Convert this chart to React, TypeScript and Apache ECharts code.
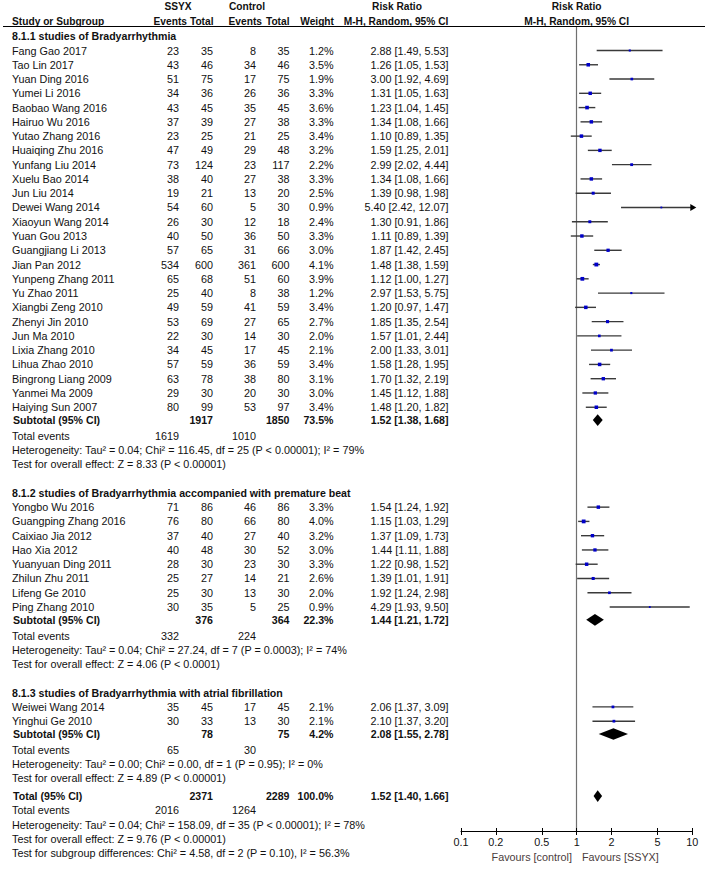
import React, { useEffect, useRef } from 'react';
import * as echarts from 'echarts';

// ---------- data ----------
const groupTitles = [
  '8.1.1 studies of Bradyarrhythmia',
  '8.1.2 studies of Bradyarrhythmia accompanied with premature beat',
  '8.1.3 studies of Bradyarrhythmia with atrial fibrillation',
];
const groupSizes = [26, 8, 2];

const studyNames = [
  'Fang Gao 2017', 'Tao Lin 2017', 'Yuan Ding 2016', 'Yumei Li 2016', 'Baobao Wang 2016',
  'Hairuo Wu 2016', 'Yutao Zhang 2016', 'Huaiqing Zhu 2016', 'Yunfang Liu 2014', 'Xuelu Bao 2014',
  'Jun Liu 2014', 'Dewei Wang 2014', 'Xiaoyun Wang 2014', 'Yuan Gou 2013', 'Guangjiang Li 2013',
  'Jian Pan 2012', 'Yunpeng Zhang 2011', 'Yu Zhao 2011', 'Xiangbi Zeng 2010', 'Zhenyi Jin 2010',
  'Jun Ma 2010', 'Lixia Zhang 2010', 'Lihua Zhao 2010', 'Bingrong Liang 2009', 'Yanmei Ma 2009',
  'Haiying Sun 2007',
  'Yongbo Wu 2016', 'Guangping Zhang 2016', 'Caixiao Jia 2012', 'Hao Xia 2012', 'Yuanyuan Ding 2011',
  'Zhilun Zhu 2011', 'Lifeng Ge 2010', 'Ping Zhang 2010',
  'Weiwei Wang 2014', 'Yinghui Ge 2010',
];
const ssyxEvents = [23, 43, 51, 34, 43, 37, 23, 47, 73, 38, 19, 54, 26, 40, 57, 534, 65, 25, 49, 53, 22, 34, 57, 63, 29, 80,
  71, 76, 37, 40, 28, 25, 25, 30, 35, 30];
const ssyxTotals = [35, 46, 75, 36, 45, 39, 25, 49, 124, 40, 21, 60, 30, 50, 65, 600, 68, 40, 59, 69, 30, 45, 59, 78, 30, 99,
  86, 80, 40, 48, 30, 27, 30, 35, 45, 33];
const ctrlEvents = [8, 34, 17, 26, 35, 27, 21, 29, 23, 27, 13, 5, 12, 36, 31, 361, 51, 8, 41, 27, 14, 17, 36, 38, 20, 53,
  46, 66, 27, 30, 23, 14, 13, 5, 17, 13];
const ctrlTotals = [35, 46, 75, 36, 45, 38, 25, 48, 117, 38, 20, 30, 18, 50, 66, 600, 60, 38, 59, 65, 30, 45, 59, 80, 30, 97,
  86, 80, 40, 52, 30, 21, 30, 25, 45, 30];
const weights = [1.2, 3.5, 1.9, 3.3, 3.6, 3.3, 3.4, 3.2, 2.2, 3.3, 2.5, 0.9, 2.4, 3.3, 3.0, 4.1, 3.9, 1.2, 3.4, 2.7, 2.0, 2.1, 3.4, 3.1, 3.0, 3.4,
  3.3, 4.0, 3.2, 3.0, 3.3, 2.6, 2.0, 0.9, 2.1, 2.1];
const riskRatios = [2.88, 1.26, 3.0, 1.31, 1.23, 1.34, 1.1, 1.59, 2.99, 1.34, 1.39, 5.4, 1.3, 1.11, 1.87, 1.48, 1.12, 2.97, 1.2, 1.85, 1.57, 2.0, 1.58, 1.7, 1.45, 1.48,
  1.54, 1.15, 1.37, 1.44, 1.22, 1.39, 1.92, 4.29, 2.06, 2.1];
const ciLow = [1.49, 1.05, 1.92, 1.05, 1.04, 1.08, 0.89, 1.25, 2.02, 1.08, 0.98, 2.42, 0.91, 0.89, 1.42, 1.38, 1.0, 1.53, 0.97, 1.35, 1.01, 1.33, 1.28, 1.32, 1.12, 1.2,
  1.24, 1.03, 1.09, 1.11, 0.98, 1.01, 1.24, 1.93, 1.37, 1.37];
const ciHigh = [5.53, 1.53, 4.69, 1.63, 1.45, 1.66, 1.35, 2.01, 4.44, 1.66, 1.98, 12.07, 1.86, 1.39, 2.45, 1.59, 1.27, 5.75, 1.47, 2.54, 2.44, 3.01, 1.95, 2.19, 1.88, 1.82,
  1.92, 1.29, 1.73, 1.88, 1.52, 1.91, 2.98, 9.5, 3.09, 3.2];

// subtotals (groups 0..2) and overall total (index 3)
const summaryLabels = ['Subtotal (95% CI)', 'Subtotal (95% CI)', 'Subtotal (95% CI)', 'Total (95% CI)'];
const summarySsyxTotals = [1917, 376, 78, 2371];
const summaryCtrlTotals = [1850, 364, 75, 2289];
const summaryWeights = ['73.5%', '22.3%', '4.2%', '100.0%'];
const summaryRR = [1.52, 1.44, 2.08, 1.52];
const summaryLow = [1.38, 1.21, 1.55, 1.4];
const summaryHigh = [1.68, 1.72, 2.78, 1.66];
const summarySsyxEvents = [1619, 332, 65, 2016];
const summaryCtrlEvents = [1010, 224, 30, 1264];
const heterogeneity = [
  'Heterogeneity: Tau² = 0.04; Chi² = 116.45, df = 25 (P < 0.00001); I² = 79%',
  'Heterogeneity: Tau² = 0.04; Chi² = 27.24, df = 7 (P = 0.0003); I² = 74%',
  'Heterogeneity: Tau² = 0.00; Chi² = 0.00, df = 1 (P = 0.95); I² = 0%',
  'Heterogeneity: Tau² = 0.04; Chi² = 158.09, df = 35 (P < 0.00001); I² = 78%',
];
const overallEffect = [
  'Test for overall effect: Z = 8.33 (P < 0.00001)',
  'Test for overall effect: Z = 4.06 (P < 0.0001)',
  'Test for overall effect: Z = 4.89 (P < 0.00001)',
  'Test for overall effect: Z = 9.76 (P < 0.00001)',
];
const subgroupTest = 'Test for subgroup differences: Chi² = 4.58, df = 2 (P = 0.10), I² = 56.3%';

const tickValues = [0.1, 0.2, 0.5, 1, 2, 5, 10];
const favoursLeft = 'Favours [control]';
const favoursRight = 'Favours [SSYX]';

// ---------- layout ----------
const FONT = '"Liberation Sans", Arial, Helvetica, sans-serif';
const TEXT = '#111';
const REG_SIZE = 10.8;
const BOLD_SIZE = 10.6;
const HEAD_SIZE = 10.2;
const LINE_H = 14.27;
const ROW0_PX = 50.5;
const GRID_TOP = 26.5;
const AXIS_PX = 831;
const Y_MIN = (GRID_TOP - ROW0_PX) / LINE_H;
const Y_MAX = (AXIS_PX - ROW0_PX) / LINE_H;

type Row = { kind: string; r: number; i?: number; text?: string };
const rows: Row[] = [];
rows.push({ kind: 'head1', r: -3.05 });
rows.push({ kind: 'head2', r: -2 });
rows.push({ kind: 'rule', r: Y_MIN });
let cur = -1;
let si = 0;
groupTitles.forEach((title, g) => {
  if (g > 0) cur += 2;
  rows.push({ kind: 'section', r: cur, text: title });
  for (let k = 0; k < groupSizes[g]; k++) {
    cur += 1;
    rows.push({ kind: 'study', r: cur, i: si++ });
  }
  cur += 0.9;
  rows.push({ kind: 'summary', r: cur, i: g });
  cur += 1.1;
  rows.push({ kind: 'events', r: cur, i: g });
  cur += 1;
  rows.push({ kind: 'note', r: cur, text: heterogeneity[g] });
  cur += 1;
  rows.push({ kind: 'note', r: cur, text: overallEffect[g] });
});
cur += 1.25;
rows.push({ kind: 'summary', r: cur, i: 3 });
cur += 1;
rows.push({ kind: 'events', r: cur, i: 3 });
cur += 1;
rows.push({ kind: 'note', r: cur, text: heterogeneity[3] });
cur += 1;
rows.push({ kind: 'note', r: cur, text: overallEffect[3] });
cur += 1;
rows.push({ kind: 'note', r: cur, text: subgroupTest });

const COL = { name: 12, e1: 179, n1: 213, e2: 256, n2: 289.5, w: 333.5, rr: 448.5 };

function txt(text: string, x: number, y: number, align: string, bold = false, size?: number, color = TEXT) {
  const fs = size ?? (bold ? BOLD_SIZE : REG_SIZE);
  return {
    type: 'text',
    x,
    y,
    style: {
      text,
      fill: color,
      font: `${bold ? 'bold ' : ''}${fs}px ${FONT}`,
      align,
      textAlign: align,
      verticalAlign: 'middle',
      textVerticalAlign: 'middle',
    },
  };
}

const ciText = (rr: number, lo: number, hi: number) =>
  `${rr.toFixed(2)} [${lo.toFixed(2)}, ${hi.toFixed(2)}]`;

function renderRow(params: any, api: any) {
  const row = rows[params.dataIndex];
  const y = api.coord([0, row.r])[1];
  const px = (v: number) => api.coord([Math.log10(v), row.r])[0];
  const children: any[] = [];
  if (row.kind === 'head1') {
    children.push(txt('SSYX', 178, y, 'center', true, HEAD_SIZE));
    children.push(txt('Control', 247, y, 'center', true, HEAD_SIZE));
    children.push(txt('Risk Ratio', 397, y, 'center', true, HEAD_SIZE));
    children.push(txt('Risk Ratio', px(1), y, 'center', true, HEAD_SIZE));
  } else if (row.kind === 'head2') {
    children.push(txt('Study or Subgroup', COL.name, y, 'left', true, HEAD_SIZE));
    children.push(txt('Events', 187, y, 'right', true, HEAD_SIZE));
    children.push(txt('Total', 213.5, y, 'right', true, HEAD_SIZE));
    children.push(txt('Events', 262, y, 'right', true, HEAD_SIZE));
    children.push(txt('Total', 289.5, y, 'right', true, HEAD_SIZE));
    children.push(txt('Weight', 334, y, 'right', true, HEAD_SIZE));
    children.push(txt('M-H, Random, 95% CI', 396, y, 'center', true, HEAD_SIZE));
    children.push(txt('M-H, Random, 95% CI', px(1), y, 'center', true, HEAD_SIZE));
  } else if (row.kind === 'rule') {
    children.push({ type: 'line', shape: { x1: 3, y1: y, x2: 705, y2: y }, style: { stroke: '#000', lineWidth: 1 } });
  } else if (row.kind === 'section') {
    children.push(txt(row.text!, COL.name, y, 'left', true));
  } else if (row.kind === 'study') {
    const i = row.i!;
    children.push(txt(studyNames[i], COL.name, y, 'left'));
    children.push(txt(String(ssyxEvents[i]), COL.e1, y, 'right'));
    children.push(txt(String(ssyxTotals[i]), COL.n1, y, 'right'));
    children.push(txt(String(ctrlEvents[i]), COL.e2, y, 'right'));
    children.push(txt(String(ctrlTotals[i]), COL.n2, y, 'right'));
    children.push(txt(weights[i].toFixed(1) + '%', COL.w, y, 'right'));
    children.push(txt(ciText(riskRatios[i], ciLow[i], ciHigh[i]), COL.rr, y, 'right'));
    const lo = Math.max(ciLow[i], tickValues[0]);
    const top = tickValues[tickValues.length - 1];
    const over = ciHigh[i] > top;
    const x1 = px(lo);
    const x2 = over ? px(top) : px(ciHigh[i]);
    children.push({ type: 'line', shape: { x1, y1: y, x2, y2: y }, style: { stroke: '#3a3a3a', lineWidth: 1.4 } });
    if (over) {
      children.push({
        type: 'polygon',
        shape: { points: [[x2 - 2, y - 3.5], [x2 + 4, y], [x2 - 2, y + 3.5]] },
        style: { fill: '#000' },
      });
    }
    const s = 1.9 * Math.sqrt(weights[i]);
    const cx = px(riskRatios[i]);
    children.push({ type: 'rect', shape: { x: cx - s / 2, y: y - s / 2, width: s, height: s }, style: { fill: '#0000c8' } });
  } else if (row.kind === 'summary') {
    const g = row.i!;
    children.push(txt(summaryLabels[g], COL.name + 1, y, 'left', true));
    children.push(txt(String(summarySsyxTotals[g]), COL.n1, y, 'right', true));
    children.push(txt(String(summaryCtrlTotals[g]), COL.n2, y, 'right', true));
    children.push(txt(summaryWeights[g], COL.w, y, 'right', true));
    children.push(txt(ciText(summaryRR[g], summaryLow[g], summaryHigh[g]), COL.rr, y, 'right', true));
    const h = 5.8;
    children.push({
      type: 'polygon',
      shape: {
        points: [
          [px(summaryLow[g]), y],
          [px(summaryRR[g]), y - h],
          [px(summaryHigh[g]), y],
          [px(summaryRR[g]), y + h],
        ],
      },
      style: { fill: '#000' },
    });
  } else if (row.kind === 'events') {
    const g = row.i!;
    children.push(txt('Total events', COL.name, y, 'left'));
    children.push(txt(String(summarySsyxEvents[g]), COL.e1, y, 'right'));
    children.push(txt(String(summaryCtrlEvents[g]), COL.e2, y, 'right'));
  } else if (row.kind === 'note') {
    children.push(txt(row.text!, COL.name, y, 'left'));
  }
  return { type: 'group', children };
}

export default function App() {
  const ref = useRef<HTMLDivElement>(null);
  useEffect(() => {
    if (!ref.current) return;
    const chart = echarts.init(ref.current, undefined, { renderer: 'svg' });
    const logTicks = tickValues.map((v) => Math.log10(v));
    const labelFor = (v: number) => {
      let best = tickValues[0];
      tickValues.forEach((t) => {
        if (Math.abs(Math.log10(t) - v) < Math.abs(Math.log10(best) - v)) best = t;
      });
      return String(best);
    };
    chart.setOption({
      animation: false,
      backgroundColor: '#fff',
      grid: { left: 461, width: 231.3, top: GRID_TOP, height: AXIS_PX - GRID_TOP, containLabel: false },
      xAxis: [
        {
          type: 'value',
          min: -1,
          max: 1,
          position: 'bottom',
          splitLine: { show: false },
          axisLine: { show: true, onZero: false, lineStyle: { color: '#000', width: 1 } },
          axisTick: { show: true, length: 4, customValues: logTicks, lineStyle: { color: '#000' } },
          axisLabel: {
            show: true,
            customValues: logTicks,
            formatter: (v: number) => labelFor(v),
            margin: 5,
            color: TEXT,
            fontSize: REG_SIZE,
            fontFamily: FONT,
          },
        },
        {
          type: 'value',
          min: -1,
          max: 1,
          position: 'bottom',
          splitLine: { show: false },
          axisLine: { show: false, onZero: false },
          axisTick: { show: true, inside: true, length: 3, customValues: logTicks, lineStyle: { color: '#000' } },
          axisLabel: { show: false },
        },
      ],
      yAxis: {
        type: 'value',
        inverse: true,
        min: Y_MIN,
        max: Y_MAX,
        splitLine: { show: false },
        axisLine: { show: true, onZero: true, lineStyle: { color: '#707070', width: 1.2 } },
        axisTick: { show: false },
        axisLabel: { show: false },
      },
      graphic: [
        {
          type: 'text',
          x: 572,
          y: 857,
          style: {
            text: favoursLeft, fill: '#4a3c3c', font: `${REG_SIZE}px ${FONT}`,
            align: 'right', textAlign: 'right', verticalAlign: 'middle', textVerticalAlign: 'middle',
          },
        },
        {
          type: 'text',
          x: 582,
          y: 857,
          style: {
            text: favoursRight, fill: '#4a3c3c', font: `${REG_SIZE}px ${FONT}`,
            align: 'left', textAlign: 'left', verticalAlign: 'middle', textVerticalAlign: 'middle',
          },
        },
      ],
      series: [
        {
          type: 'custom',
          coordinateSystem: 'cartesian2d',
          xAxisIndex: 0,
          yAxisIndex: 0,
          clip: false,
          silent: true,
          encode: { x: 0, y: 1 },
          data: rows.map((row, idx) => [0, row.r, idx]),
          renderItem: renderRow,
        },
      ],
    });
    return () => chart.dispose();
  }, []);
  return (
    <div
      ref={ref}
      style={{ position: 'fixed', left: 0, top: 0, width: 708, height: 871, background: '#fff' }}
    />
  );
}
